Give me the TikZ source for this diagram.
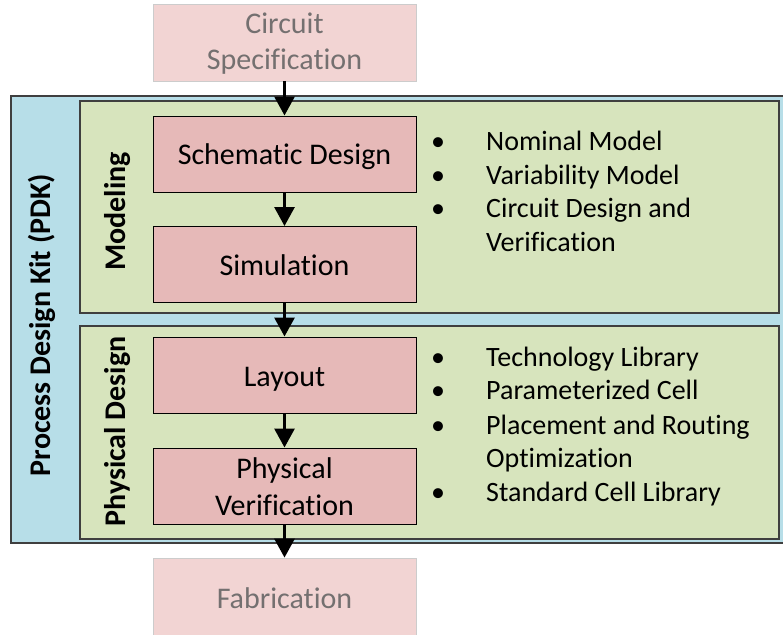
\documentclass[tikz,border=0pt]{standalone}
\usepackage{fontspec}
\setmainfont{Carlito}[Ligatures={NoCommon,NoContextual},Contextuals=NoAlternate]
\usetikzlibrary{arrows.meta}
\definecolor{pdkblue}{HTML}{B7DEE8}
\definecolor{stagegreen}{HTML}{D7E4BD}
\definecolor{stepred}{HTML}{E6B9B8}
\definecolor{endpink}{HTML}{F2D4D3}
\definecolor{endtext}{HTML}{747070}
\definecolor{frame}{HTML}{3F3F3F}
\begin{document}
\begin{tikzpicture}[x=1pt,y=-1pt,
  container/.style={draw=frame, line width=1.2pt},
  stepbox/.style={draw=black, line width=1pt, fill=stepred, minimum width=263pt, minimum height=76pt, inner sep=0pt},
  endbox/.style={draw=black!20, line width=0.8pt, fill=endpink, minimum width=263pt, minimum height=77pt, inner sep=0pt},
  boxtext/.style={anchor=base, inner sep=0pt, font=\fontsize{30}{36}\selectfont},
  endtextstyle/.style={boxtext, text=endtext},
  vlabel/.style={rotate=90, anchor=base, inner sep=0pt, font=\fontsize{30}{34}\selectfont\bfseries},
  bullettext/.style={anchor=base west, inner sep=0pt, font=\fontsize{28}{34}\selectfont},
  flow/.style={line width=3pt, -{Triangle[width=20pt,length=19pt]}}
]
\useasboundingbox (0,0) rectangle (783,634);
% containers
\draw[container, fill=pdkblue] (11,96) rectangle (786,543);
\draw[container, fill=stagegreen] (80,101) rectangle (779,313);
\draw[container, fill=stagegreen] (80,326) rectangle (779,539);
% vertical labels
\node[vlabel] (pdklbl) at (50,325) {Process Design Kit (PDK)};
\node[vlabel] (modlbl) at (125,211.5) {Modeling};
\node[vlabel] (phylbl) at (125,431.5) {Physical Design};
% flow boxes
\node[endbox] (spec) at (284.5,42.5) {};
\node[stepbox] (schem) at (284.5,154) {};
\node[stepbox] (sim) at (284.5,264.5) {};
\node[stepbox] (layout) at (284.5,375) {};
\node[stepbox] (pv) at (284.5,486) {};
\node[endbox] (fab) at (284.5,596.5) {};
% box texts
\node[endtextstyle] (spec1) at (284.5,34) {Circuit};
\node[endtextstyle] (spec2) at (284.5,70) {Specification};
\node[boxtext] (schemt) at (284.5,164) {Schematic Design};
\node[boxtext] (simt) at (284.5,275) {Simulation};
\node[boxtext] (layoutt) at (284.5,386) {Layout};
\node[boxtext] (pv1) at (284.5,478) {Physical};
\node[boxtext] (pv2) at (284.5,515) {Verification};
\node[endtextstyle] (fabt) at (284.5,608) {Fabrication};
% arrows
\draw[flow] (spec) -- (schem);
\draw[flow] (schem) -- (sim);
\draw[flow] (sim) -- (layout);
\draw[flow] (layout) -- (pv);
\draw[flow] (pv) -- (fab);
% bullet lists
\node[bullettext] (m1) at (431,150) {\makebox[55pt][l]{•}Nominal Model};
\node[bullettext] (m2) at (431,184) {\makebox[55pt][l]{•}Variability Model};
\node[bullettext] (m3) at (431,217) {\makebox[55pt][l]{•}Circuit Design and};
\node[bullettext] (m4) at (486,251) {Verification};
\node[bullettext] (p1) at (431,366) {\makebox[55pt][l]{•}Technology Library};
\node[bullettext] (p2) at (431,399) {\makebox[55pt][l]{•}Parameterized Cell};
\node[bullettext] (p3) at (431,434) {\makebox[55pt][l]{•}Placement and Routing};
\node[bullettext] (p4) at (486,467) {Optimization};
\node[bullettext] (p5) at (431,501) {\makebox[55pt][l]{•}Standard Cell Library};
\end{tikzpicture}
\end{document}
